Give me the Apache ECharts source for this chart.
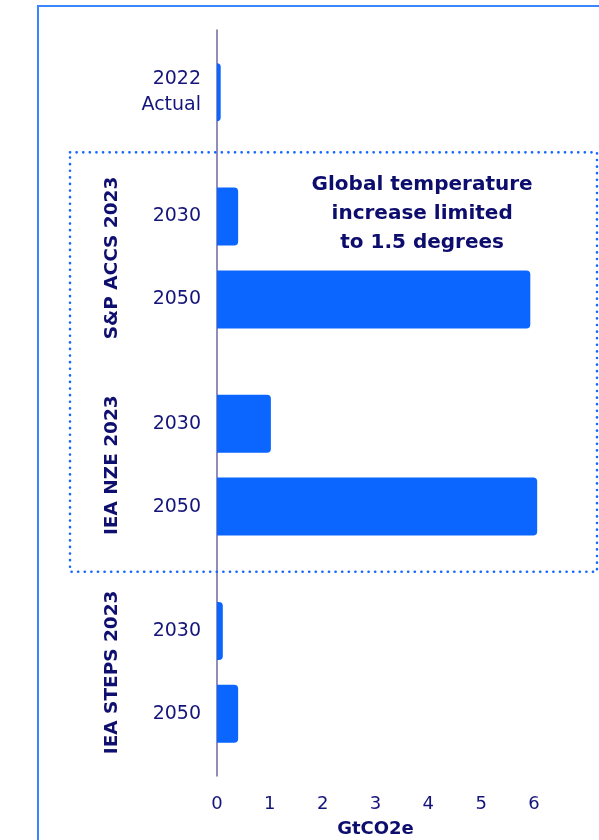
<!DOCTYPE html>
<html><head><meta charset="utf-8">
<script src="https://cdn.jsdelivr.net/npm/echarts@6/dist/echarts.min.js"></script>
<style>html,body{margin:0;padding:0;background:#fff}#c{width:599px;height:840px}</style>
</head><body><div id="c"></div>
<script>
// Categories (blank entries are spacer slots between groups)
const categories = ['', '2022\nActual', '', '', '2030', '', '2050', '', '', '2030', '', '2050', '', '', '2030', '', '2050', ''];
const values = [null, 0.07, null, null, 0.40, null, 5.93, null, null, 1.02, null, 6.06, null, null, 0.11, null, 0.40, null];
const groups = [
  {name: 'S&P ACCS 2023', slots: [4, 6]},
  {name: 'IEA NZE 2023', slots: [9, 11]},
  {name: 'IEA STEPS 2023', slots: [14, 16]}
];
const xTicks = [0, 1, 2, 3, 4, 5, 6];
const annotation = 'Global temperature\nincrease limited\nto 1.5 degrees';
const axisName = 'GtCO2e';

const NAVY = '#14147a';
const BLUE = '#0a66ff';
const chart = echarts.init(document.getElementById('c'), null, {renderer: 'canvas'});
const FONT = 'DejaVu Sans';

chart.setOption({
  animation: false,
  grid: {left: 217, right: 65, top: 30, bottom: 64, containLabel: false},
  xAxis: {
    type: 'value', min: xTicks[0], max: xTicks[xTicks.length - 1], interval: 1,
    axisLine: {show: false}, axisTick: {show: false}, splitLine: {show: false},
    axisLabel: {color: NAVY, fontSize: 18, fontFamily: FONT, margin: 19}
  },
  yAxis: {
    type: 'category', inverse: true, data: categories,
    axisLine: {show: true, lineStyle: {color: '#6d6aa3', width: 1.5}},
    axisTick: {show: false},
    axisLabel: {color: NAVY, fontSize: 19, fontFamily: FONT, margin: 16, lineHeight: 26, interval: 0, align: 'right'}
  },
  series: [{
    type: 'bar', data: values, barWidth: 58, clip: false,
    itemStyle: {color: BLUE, borderRadius: [0, 4, 4, 0]}
  }]
});

function py(i) { return chart.convertToPixel({yAxisIndex: 0}, i); }
function px(v) { return chart.convertToPixel({xAxisIndex: 0}, v); }

const boxTop = (py(1) + py(4)) / 2 - 2;
const boxBottom = (py(11) + py(14)) / 2 + 3;
const g = [];
// outer frame lines
g.push({type: 'line', shape: {x1: 38, y1: 6, x2: 38, y2: 840}, style: {stroke: '#3a86ff', lineWidth: 2}});
g.push({type: 'line', shape: {x1: 37, y1: 6, x2: 599, y2: 6}, style: {stroke: '#3a86ff', lineWidth: 2}});
// dotted box
g.push({type: 'rect', shape: {x: 70, y: boxTop, width: 527, height: boxBottom - boxTop},
  style: {fill: 'none', stroke: '#1468ff', lineWidth: 2.6, lineDash: [0.1, 6.5], lineCap: 'round'}, z: 5});
// group labels
groups.forEach(gr => {
  const yc = (py(gr.slots[0]) + py(gr.slots[1])) / 2;
  g.push({type: 'text', x: 112, y: yc, rotation: Math.PI / 2,
    style: {text: gr.name, fill: '#0f0f70', font: 'bold 18.5px "' + FONT + '"', align: 'center', verticalAlign: 'middle'}});
});
// annotation
g.push({type: 'text', x: (px(3.5) + px(4)) / 2 + 7, y: py(4) - 3,
  style: {text: annotation, fill: '#0d0d6e', font: 'bold 20px "' + FONT + '"', align: 'center', verticalAlign: 'middle', lineHeight: 29}});
// axis name
g.push({type: 'text', x: (px(0) + px(6)) / 2, y: 829,
  style: {text: axisName, fill: '#0d0d6e', font: 'bold 18px "' + FONT + '"', align: 'center', verticalAlign: 'middle'}});
chart.setOption({graphic: g});
</script></body></html>
